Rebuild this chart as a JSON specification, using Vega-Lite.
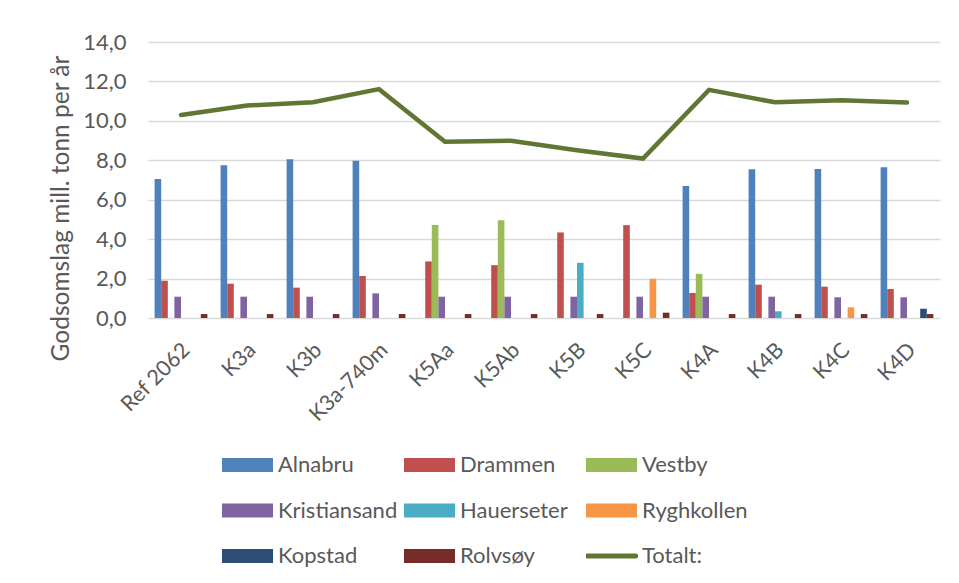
{
  "$schema": "https://vega.github.io/schema/vega-lite/v6.json",
  "autosize": {"type": "none"},
  "width": 792,
  "height": 276,
  "padding": {"left": 148, "top": 42, "right": 19, "bottom": 265},
  "background": "#ffffff",
  "config": {
    "font": "Lato",
    "view": {"stroke": null},
    "axis": {"labelFont": "Lato", "titleFont": "Lato", "labelColor": "#595959", "titleColor": "#595959"}
  },
  "data": {
    "values": [
      {"scenario": "Ref 2062", "series": "Alnabru", "value": 7.05},
      {"scenario": "Ref 2062", "series": "Drammen", "value": 1.89},
      {"scenario": "Ref 2062", "series": "Kristiansand", "value": 1.08},
      {"scenario": "Ref 2062", "series": "Rolvsøy", "value": 0.2},
      {"scenario": "Ref 2062", "series": "Totalt:", "value": 10.3},
      {"scenario": "K3a", "series": "Alnabru", "value": 7.75},
      {"scenario": "K3a", "series": "Drammen", "value": 1.74},
      {"scenario": "K3a", "series": "Kristiansand", "value": 1.08},
      {"scenario": "K3a", "series": "Rolvsøy", "value": 0.2},
      {"scenario": "K3a", "series": "Totalt:", "value": 10.78},
      {"scenario": "K3b", "series": "Alnabru", "value": 8.05},
      {"scenario": "K3b", "series": "Drammen", "value": 1.54},
      {"scenario": "K3b", "series": "Kristiansand", "value": 1.08},
      {"scenario": "K3b", "series": "Rolvsøy", "value": 0.2},
      {"scenario": "K3b", "series": "Totalt:", "value": 10.94},
      {"scenario": "K3a-740m", "series": "Alnabru", "value": 7.98},
      {"scenario": "K3a-740m", "series": "Drammen", "value": 2.13},
      {"scenario": "K3a-740m", "series": "Kristiansand", "value": 1.25},
      {"scenario": "K3a-740m", "series": "Rolvsøy", "value": 0.2},
      {"scenario": "K3a-740m", "series": "Totalt:", "value": 11.61},
      {"scenario": "K5Aa", "series": "Drammen", "value": 2.87},
      {"scenario": "K5Aa", "series": "Vestby", "value": 4.72},
      {"scenario": "K5Aa", "series": "Kristiansand", "value": 1.08},
      {"scenario": "K5Aa", "series": "Rolvsøy", "value": 0.2},
      {"scenario": "K5Aa", "series": "Totalt:", "value": 8.94},
      {"scenario": "K5Ab", "series": "Drammen", "value": 2.68},
      {"scenario": "K5Ab", "series": "Vestby", "value": 4.96},
      {"scenario": "K5Ab", "series": "Kristiansand", "value": 1.08},
      {"scenario": "K5Ab", "series": "Rolvsøy", "value": 0.2},
      {"scenario": "K5Ab", "series": "Totalt:", "value": 8.99},
      {"scenario": "K5B", "series": "Drammen", "value": 4.34},
      {"scenario": "K5B", "series": "Kristiansand", "value": 1.08},
      {"scenario": "K5B", "series": "Hauerseter", "value": 2.8},
      {"scenario": "K5B", "series": "Rolvsøy", "value": 0.2},
      {"scenario": "K5B", "series": "Totalt:", "value": 8.51},
      {"scenario": "K5C", "series": "Drammen", "value": 4.71},
      {"scenario": "K5C", "series": "Kristiansand", "value": 1.08},
      {"scenario": "K5C", "series": "Ryghkollen", "value": 1.99},
      {"scenario": "K5C", "series": "Rolvsøy", "value": 0.27},
      {"scenario": "K5C", "series": "Totalt:", "value": 8.09},
      {"scenario": "K4A", "series": "Alnabru", "value": 6.7},
      {"scenario": "K4A", "series": "Drammen", "value": 1.27},
      {"scenario": "K4A", "series": "Vestby", "value": 2.24},
      {"scenario": "K4A", "series": "Kristiansand", "value": 1.08},
      {"scenario": "K4A", "series": "Rolvsøy", "value": 0.2},
      {"scenario": "K4A", "series": "Totalt:", "value": 11.57},
      {"scenario": "K4B", "series": "Alnabru", "value": 7.54},
      {"scenario": "K4B", "series": "Drammen", "value": 1.69},
      {"scenario": "K4B", "series": "Kristiansand", "value": 1.08},
      {"scenario": "K4B", "series": "Hauerseter", "value": 0.34},
      {"scenario": "K4B", "series": "Rolvsøy", "value": 0.2},
      {"scenario": "K4B", "series": "Totalt:", "value": 10.94},
      {"scenario": "K4C", "series": "Alnabru", "value": 7.56},
      {"scenario": "K4C", "series": "Drammen", "value": 1.59},
      {"scenario": "K4C", "series": "Kristiansand", "value": 1.05},
      {"scenario": "K4C", "series": "Ryghkollen", "value": 0.54},
      {"scenario": "K4C", "series": "Rolvsøy", "value": 0.2},
      {"scenario": "K4C", "series": "Totalt:", "value": 11.04},
      {"scenario": "K4D", "series": "Alnabru", "value": 7.65},
      {"scenario": "K4D", "series": "Drammen", "value": 1.47},
      {"scenario": "K4D", "series": "Kristiansand", "value": 1.05},
      {"scenario": "K4D", "series": "Kopstad", "value": 0.47},
      {"scenario": "K4D", "series": "Rolvsøy", "value": 0.2},
      {"scenario": "K4D", "series": "Totalt:", "value": 10.93}
    ]
  },
  "encoding": {
    "x": {
      "field": "scenario",
      "type": "nominal",
      "sort": ["Ref 2062", "K3a", "K3b", "K3a-740m", "K5Aa", "K5Ab", "K5B", "K5C", "K4A", "K4B", "K4C", "K4D"],
      "scale": {"paddingInner": 0, "paddingOuter": 0},
      "axis": {
        "title": null,
        "domain": false,
        "ticks": false,
        "grid": false,
        "labelAngle": -45,
        "labelAlign": "right",
        "labelBaseline": "top",
        "labelPadding": 21,
        "labelOffset": -2,
        "labelFontSize": 21.5,
        "labelLimit": 300
      }
    },
    "y": {
      "field": "value",
      "type": "quantitative",
      "scale": {"domain": [0, 14], "nice": false, "zero": true},
      "axis": {
        "title": "Godsomslag mill. tonn per år",
        "values": [0, 2, 4, 6, 8, 10, 12, 14],
        "labelExpr": "replace(format(datum.value, '.1f'), '.', ',')",
        "domain": false,
        "ticks": false,
        "grid": true,
        "gridColor": "#D9D9D9",
        "gridWidth": 1.5,
        "labelPadding": 22,
        "labelFontSize": 22,
        "labelBaseline": "middle",
        "titleFontSize": 24.5,
        "titleFontWeight": "normal",
        "titleAngle": -90,
        "titleAlign": "center",
        "titleBaseline": "alphabetic",
        "titleX": -80,
        "titleY": 166
      }
    }
  },
  "layer": [
    {
      "transform": [{"filter": "datum.series !== 'Totalt:'"}],
      "mark": {"type": "bar"},
      "encoding": {
        "xOffset": {
          "field": "series",
          "type": "nominal",
          "scale": {
            "domain": ["Alnabru", "Drammen", "Vestby", "Kristiansand", "Hauerseter", "Ryghkollen", "Kopstad", "Rolvsøy"],
            "paddingInner": 0,
            "paddingOuter": 1.1
          }
        },
        "color": {
          "field": "series",
          "type": "nominal",
          "scale": {
            "domain": ["Alnabru", "Drammen", "Vestby", "Kristiansand", "Hauerseter", "Ryghkollen", "Kopstad", "Rolvsøy", "Totalt:"],
            "range": ["#4F81BD", "#C0504D", "#9BBB59", "#8064A2", "#4BACC6", "#F79646", "#2C4D75", "#772C2A", "#617632"]
          },
          "legend": {
            "title": null,
            "orient": "none",
            "legendX": 74,
            "legendY": 413,
            "direction": "horizontal",
            "columns": 3,
            "gridAlign": "all",
            "padding": 0,
            "symbolSize": 2601,
            "symbolType": "M-1,-0.27H1V0.27H-1Z",
            "symbolStrokeWidth": 0,
            "symbolOpacity": 1,
            "clipHeight": 20,
            "labelFont": "Lato",
            "labelFontSize": 22,
            "labelColor": "#595959",
            "labelOffset": 5,
            "labelLimit": 300,
            "rowPadding": 23.5,
            "columnPadding": 6,
            "encode": {
              "symbols": {
                "update": {
                  "shape": {"signal": "datum.value === 'Totalt:' ? 'M-0.95,-0.098H0.95A0.098,0.098 0 0 1 0.95,0.098H-0.95A0.098,0.098 0 0 1 -0.95,-0.098Z' : 'M-1,-0.27H1V0.27H-1Z'"}
                }
              }
            }
          }
        }
      }
    },
    {
      "transform": [{"filter": "datum.series === 'Totalt:'"}],
      "mark": {"type": "line", "color": "#617632", "strokeWidth": 4.5, "strokeCap": "round", "strokeJoin": "miter"},
      "encoding": {}
    }
  ]
}
